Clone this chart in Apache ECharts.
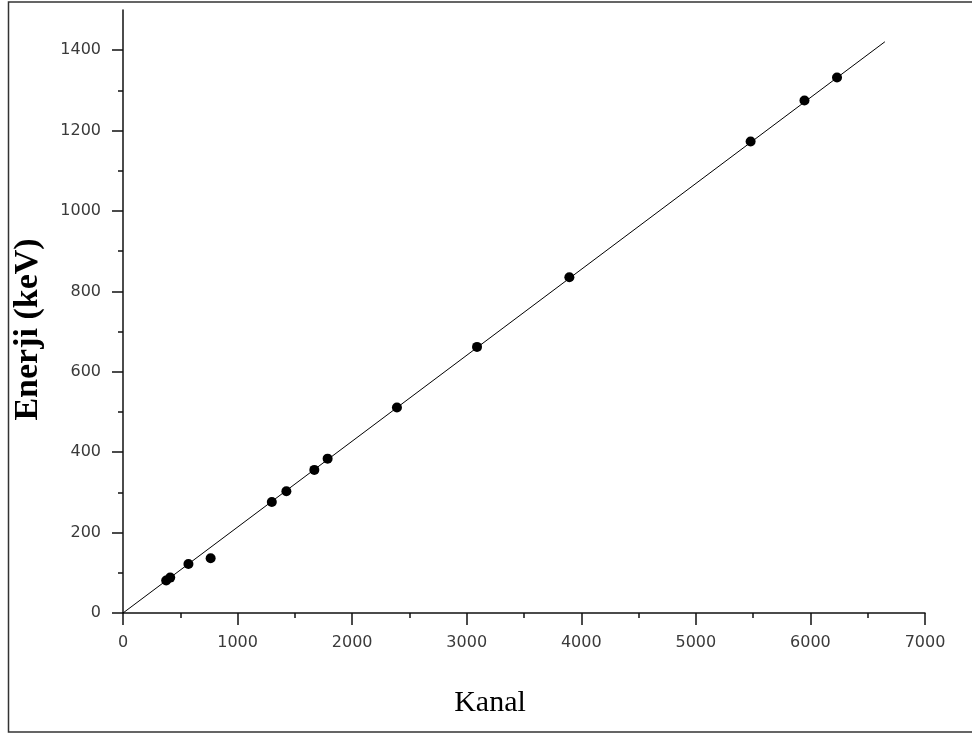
<!DOCTYPE html>
<html>
<head>
<meta charset="utf-8">
<script src="https://cdn.jsdelivr.net/npm/echarts@6/dist/echarts.min.js"></script>
<style>
html,body{margin:0;padding:0;background:#fff;}
#chart{width:972px;height:735px;}
</style>
</head>
<body>
<div id="chart"></div>
<script>
// Measured calibration points: channel vs energy (keV)
const kanal = [377, 412, 571, 765, 1299, 1426, 1670, 1786, 2391, 3090, 3896, 5478, 5948, 6232];
const enerji = [81, 88, 122, 136, 276, 303, 356, 384, 511, 662, 835, 1173, 1275, 1332];
// Linear fit line end points
const fitKanal = [0, 6650];
const fitEnerji = [0, 1421];
// Tick labels
const xTicks = [0, 1000, 2000, 3000, 4000, 5000, 6000, 7000];
const yTicks = [0, 200, 400, 600, 800, 1000, 1200, 1400];

const pts = kanal.map((k, i) => [k, enerji[i]]);
const fit = fitKanal.map((k, i) => [k, fitEnerji[i]]);

const chart = echarts.init(document.getElementById('chart'), null, {renderer: 'canvas'});
const labelFont = {fontFamily: 'DejaVu Sans', fontSize: 16, color: '#3a3a3a', formatter: v => String(v)};
chart.setOption({
  animation: false,
  backgroundColor: '#fff',
  grid: {left: 123, right: 47, top: 10, bottom: 122},
  xAxis: {
    type: 'value', min: 0, max: 7000, interval: 1000,
    name: 'Kanal', nameLocation: 'middle', nameGap: 75,
    nameTextStyle: {fontFamily: 'Liberation Serif', fontSize: 30, color: '#000', padding: [0, 68, 0, 0]},
    axisLine: {show: true, onZero: false, lineStyle: {color: '#111', width: 1.5}},
    axisTick: {show: true, inside: false, length: 12, lineStyle: {color: '#111', width: 1.5}},
    minorTick: {show: true, splitNumber: 2, length: 5, lineStyle: {color: '#111', width: 1.5}},
    axisLabel: Object.assign({margin: 22, customValues: xTicks}, labelFont),
    splitLine: {show: false}
  },
  yAxis: {
    type: 'value', min: 0, max: 1500, interval: 200,
    name: 'Enerji (keV)', nameLocation: 'middle', nameGap: 78,
    nameTextStyle: {fontFamily: 'Liberation Serif', fontSize: 34, fontWeight: 'bold', color: '#000', padding: [0, 36, 0, 0]},
    axisLine: {show: true, onZero: false, lineStyle: {color: '#111', width: 1.5}},
    axisTick: {show: true, inside: false, length: 11, customValues: yTicks, lineStyle: {color: '#111', width: 1.5}},
    minorTick: {show: true, splitNumber: 2, length: 5, lineStyle: {color: '#111', width: 1.5}},
    axisLabel: Object.assign({margin: 22, customValues: yTicks}, labelFont),
    splitLine: {show: false}
  },
  graphic: [{
    type: 'polyline',
    shape: {points: [[990, 2], [8.5, 2], [8.5, 732], [990, 732]]},
    style: {stroke: '#333', lineWidth: 1.5, fill: null},
    silent: true
  }],
  series: [
    {
      type: 'line', data: fit, showSymbol: false, symbol: 'none',
      lineStyle: {color: '#000', width: 1}, z: 2
    },
    {
      type: 'scatter', data: pts, symbol: 'circle', symbolSize: 10,
      itemStyle: {color: '#000', opacity: 1}, z: 3
    }
  ]
});
</script>
</body>
</html>
